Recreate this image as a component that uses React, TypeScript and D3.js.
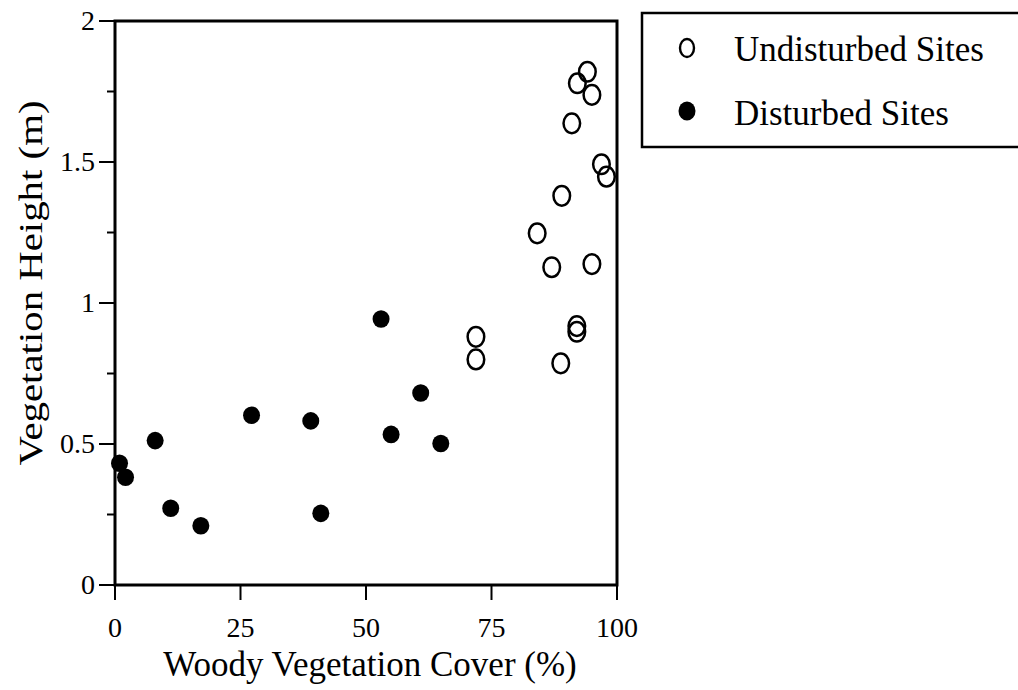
import React from "react";
import * as d3 from "d3";

const undisturbedX = [94.1, 92.1, 95.0, 91.0, 96.9, 97.9, 89.0, 84.1, 87.0, 95.0, 92.0, 92.0, 71.9, 71.9, 88.8];
const undisturbedY = [1.82, 1.779, 1.738, 1.637, 1.492, 1.448, 1.38, 1.247, 1.127, 1.138, 0.918, 0.898, 0.88, 0.8, 0.786];
const disturbedX = [0.9, 2.1, 8.0, 11.1, 17.1, 27.2, 39.0, 41.0, 53.0, 55.0, 60.9, 64.9];
const disturbedY = [0.432, 0.382, 0.512, 0.272, 0.21, 0.602, 0.582, 0.254, 0.943, 0.534, 0.681, 0.502];
const xTicks = [0, 25, 50, 75, 100];
const yTicks = [0, 0.5, 1, 1.5, 2];
const yMinorTicks = [0.25, 0.75, 1.25, 1.75];
const legendLabels = ["Undisturbed Sites", "Disturbed Sites"];

const FONT = "'Liberation Serif', 'Times New Roman', serif";

export default function App() {
  const x = d3.scaleLinear().domain([0, 100]).range([115, 617]);
  const y = d3.scaleLinear().domain([0, 2]).range([585, 21]);
  const undisturbed = undisturbedX.map((v, i) => ({ x: v, y: undisturbedY[i] }));
  const disturbed = disturbedX.map((v, i) => ({ x: v, y: disturbedY[i] }));
  const [x0, x1] = x.range();
  const [y0, y1] = y.range();
  return (
    <svg
      width={1018}
      height={690}
      style={{ position: "absolute", left: 0, top: 0, background: "#fff" }}
      fontFamily={FONT}
    >
      <rect x={0} y={0} width={1018} height={690} fill="#fff" />
      {yTicks.map((t) => (
        <g key={"yt" + t}>
          <line x1={x0 - 16} x2={x0} y1={y(t)} y2={y(t)} stroke="#000" strokeWidth={2} />
          <text x={x0 - 20} y={y(t) + 9} fontSize={28} textAnchor="end" fill="#000">
            {d3.format("")(t)}
          </text>
        </g>
      ))}
      {yMinorTicks.map((t) => (
        <line key={"ym" + t} x1={x0 - 8} x2={x0} y1={y(t)} y2={y(t)} stroke="#000" strokeWidth={2} />
      ))}
      {xTicks.map((t) => (
        <g key={"xt" + t}>
          <line x1={x(t)} x2={x(t)} y1={y0} y2={y0 + 15} stroke="#000" strokeWidth={2} />
          <text x={x(t)} y={y0 + 52} fontSize={28} textAnchor="middle" fill="#000">
            {t}
          </text>
        </g>
      ))}
      <rect x={x0} y={y1} width={x1 - x0} height={y0 - y1} fill="none" stroke="#000" strokeWidth={3} />
      {disturbed.map((d, i) => (
        <ellipse key={"d" + i} cx={x(d.x)} cy={y(d.y)} rx={8.5} ry={8.8} fill="#000" />
      ))}
      {undisturbed.map((d, i) => (
        <ellipse key={"u" + i} cx={x(d.x)} cy={y(d.y)} rx={8.3} ry={9.8} fill="none" stroke="#000" strokeWidth={2.5} />
      ))}
      <text x={370} y={676} fontSize={35} textAnchor="middle" fill="#000">
        Woody Vegetation Cover (%)
      </text>
      <text
        transform={`translate(42, 283) rotate(-90)`}
        fontSize={34}
        textAnchor="middle"
        fill="#000"
        textLength={365}
        lengthAdjust="spacingAndGlyphs"
      >
        Vegetation Height (m)
      </text>
      <rect x={642} y={13} width={390} height={134} fill="#fff" stroke="#000" strokeWidth={2.5} />
      <ellipse cx={687} cy={48} rx={7} ry={9} fill="none" stroke="#000" strokeWidth={2.4} />
      <ellipse cx={687} cy={111} rx={8.5} ry={9.5} fill="#000" />
      <text x={734} y={61} fontSize={35} fill="#000">{legendLabels[0]}</text>
      <text x={734} y={125} fontSize={35} fill="#000">{legendLabels[1]}</text>
    </svg>
  );
}
